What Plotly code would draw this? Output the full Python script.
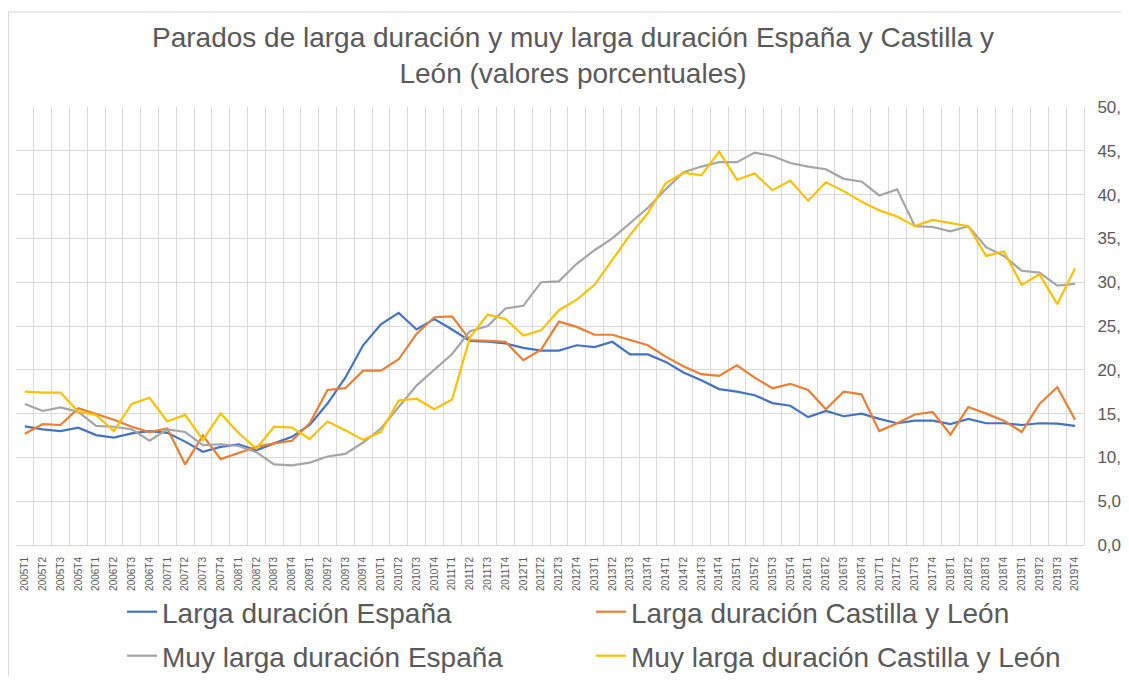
import plotly.graph_objects as go

quarters = [f"{y}T{q}" for y in range(2005, 2020) for q in range(1, 5)]

larga_espana = [
    13.55, 13.2, 13.0, 13.4, 12.55, 12.25, 12.75, 13.0, 12.8, 11.8, 10.65, 11.2, 11.5, 10.8, 11.6, 12.35,
    13.7, 16.15, 19.1, 22.8, 25.2, 26.5, 24.6, 25.8, 24.6, 23.3, 23.2, 23.0, 22.5, 22.2,
    22.2, 22.8, 22.6, 23.2, 21.75, 21.75, 20.9, 19.7, 18.8, 17.8, 17.5, 17.1, 16.2, 15.9,
    14.6, 15.3, 14.7, 15.0, 14.4, 13.9, 14.2, 14.2, 13.8, 14.4, 13.9, 13.9, 13.7, 13.9, 13.85, 13.6,
]
larga_cyl = [
    12.7, 13.8, 13.7, 15.6, 14.95, 14.3, 13.5, 12.9, 13.3, 9.2, 12.5, 9.8, 10.5, 11.2, 11.6, 11.9,
    13.9, 17.7, 17.9, 19.9, 19.9, 21.2, 24.1, 26.0, 26.1, 23.4, 23.3, 23.2, 21.1, 22.3,
    25.5, 24.9, 24.0, 24.0, 23.4, 22.8, 21.5, 20.4, 19.5, 19.3, 20.5, 19.1, 17.9, 18.4,
    17.7, 15.5, 17.5, 17.2, 13.0, 13.9, 14.9, 15.2, 12.6, 15.75, 15.0, 14.2, 12.9, 16.1, 18.0, 14.3,
]
muy_larga_espana = [
    16.1, 15.3, 15.7, 15.2, 13.6, 13.5, 13.2, 11.9, 13.2, 12.9, 11.4, 11.5, 11.3, 10.6, 9.2, 9.1,
    9.4, 10.1, 10.4, 11.7, 13.3, 15.8, 18.2, 20.0, 21.8, 24.4, 25.0, 27.0, 27.3, 30.0,
    30.1, 32.1, 33.65, 35.0, 36.7, 38.5, 40.6, 42.55, 43.2, 43.7, 43.7, 44.8, 44.4, 43.6,
    43.2, 42.9, 41.8, 41.5, 39.9, 40.6, 36.4, 36.3, 35.8, 36.4, 34.0, 33.0, 31.3, 31.1, 29.6, 29.8,
]
muy_larga_cyl = [
    17.5, 17.4, 17.4, 15.2, 14.85, 13.0, 16.1, 16.8, 14.1, 14.85, 12.0, 15.0, 12.8, 11.0, 13.5, 13.4,
    12.1, 14.1, 13.1, 12.0, 12.9, 16.5, 16.7, 15.5, 16.6, 23.7, 26.3, 25.8, 23.9, 24.5,
    26.8, 28.0, 29.7, 32.5, 35.4, 37.9, 41.3, 42.5, 42.2, 44.9, 41.7, 42.4, 40.5, 41.6,
    39.3, 41.4, 40.4, 39.2, 38.2, 37.5, 36.4, 37.1, 36.75, 36.4, 33.0, 33.5, 29.7, 30.9, 27.5, 31.6,
]

series_names = [
    "Larga duración España",
    "Larga duración Castilla y León",
    "Muy larga duración España",
    "Muy larga duración Castilla y León",
]
series_values = [larga_espana, larga_cyl, muy_larga_espana, muy_larga_cyl]
series_colors = ["#4472C4", "#ED7D31", "#A5A5A5", "#FFC000"]
series_legends = ["legend", "legend", "legend2", "legend2"]

TXT = "#595959"
GRID = "#D9D9D9"
FONT = "Liberation Sans, Arial, sans-serif"

fig = go.Figure()
for name, vals, col, lg in zip(series_names, series_values, series_colors, series_legends):
    fig.add_trace(go.Scatter(
        x=quarters, y=vals, name=name, mode="lines",
        line=dict(color=col, width=2.2), legend=lg,
    ))

# the page body adds an 8px offset; the figure is sized to fit the window
W, H = 1121, 668
L, R, T, B = 8, 1076, 99, 537
pw, ph = R - L, B - T

def px_to_paper_x(px):
    return (px - L) / pw

def px_to_paper_y(py):
    return (B - py) / ph

legend_common = dict(
    orientation="h", xref="container", yref="container",
    xanchor="left", yanchor="middle",
    font=dict(family=FONT, size=28, color=TXT),
    entrywidth=424, entrywidthmode="pixels", itemwidth=30,
    bgcolor="rgba(0,0,0,0)", tracegroupgap=0,
)

fig.update_layout(
    width=W, height=H,
    margin=dict(l=L, r=W - R, t=T, b=H - B, pad=0, autoexpand=False),
    paper_bgcolor="white", plot_bgcolor="white",
    separators=",.",
    font=dict(family=FONT, color=TXT),
    title=dict(
        text="Parados de larga duración y muy larga duración España y Castilla y<br>León (valores porcentuales)",
        x=565 / W, xanchor="center", xref="container",
        y=1 - 39 / H, yanchor="top", yref="container",
        font=dict(family=FONT, size=28, color=TXT),
        automargin=False,
    ),
    legend=dict(x=114 / W, y=1 - 604 / H, **legend_common),
    legend2=dict(x=114 / W, y=1 - 648 / H, **legend_common),
    xaxis=dict(
        type="category", range=[-0.5, 59.5], automargin=False,
        tickson="boundaries", showgrid=True, gridcolor=GRID, gridwidth=1,
        ticks="", tickangle=-90,
        tickfont=dict(family=FONT, size=10, color=TXT),
        showline=True, linecolor=GRID, linewidth=1, mirror=False,
        zeroline=False, ticklabelstandoff=7,
    ),
    yaxis=dict(
        side="right", range=[0, 50], dtick=5, tick0=0, tickformat=".1f",
        automargin=False,
        showgrid=True, gridcolor=GRID, gridwidth=1,
        ticks="", tickfont=dict(family=FONT, size=17, color=TXT),
        zeroline=False, showline=True, linecolor=GRID, linewidth=1,
        ticklabelstandoff=9,
    ),
    shapes=[
        dict(type="rect", xref="paper", yref="paper",
             x0=px_to_paper_x(0.5), x1=px_to_paper_x(1140),
             y0=px_to_paper_y(700), y1=px_to_paper_y(4),
             line=dict(color=GRID, width=1), fillcolor="rgba(0,0,0,0)", layer="below"),
    ],
)

fig.write_html("out.html")
